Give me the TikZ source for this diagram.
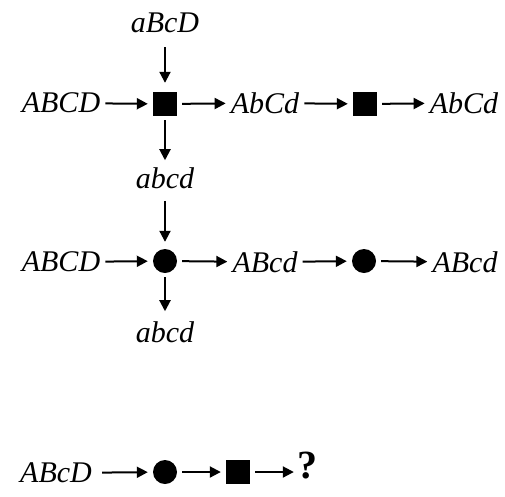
\documentclass[tikz,border=0pt]{standalone}
\usepackage{fontspec}
\setmainfont{Liberation Serif}
\usetikzlibrary{arrows.meta,positioning}

\begin{document}
\begin{tikzpicture}[x=1pt,y=-1pt,>={Triangle[length=11pt,width=11pt]},
  geno/.style={inner sep=0pt,font=\fontsize{30}{36}\selectfont\itshape},
  sqnode/.style={fill=black,minimum size=24pt,inner sep=0pt},
  dotnode/.style={circle,fill=black,minimum size=24pt,inner sep=0pt},
  link/.style={->,line width=2pt,shorten <=5pt,shorten >=5pt}]
  \useasboundingbox (0,0) rectangle (505,496);
  % first cross: square
  \foreach \n/\x/\t in {r1a/61/ABCD,r1b/265/AbCd,r1c/464/AbCd} {
    \node[geno] (\n) at (\x,103) {\t};
  }
  \node[sqnode] (r1s1) at (165,104) {};
  \node[sqnode] (r1s2) at (365,104) {};
  \node[geno] (top) at (165,23) {aBcD};
  \node[geno] (mid) at (165,178) {abcd};
  \draw[link] (r1a) -- (r1s1);
  \draw[link] (r1s1) -- (r1b);
  \draw[link] (r1b) -- (r1s2);
  \draw[link] (r1s2) -- (r1c);
  \draw[link,shorten <=14pt,shorten >=9pt] (top) -- (r1s1);
  \draw[link,shorten <=4pt,shorten >=7pt] (r1s1) -- (mid);
  % second cross: circle
  \foreach \n/\x/\t in {r2a/61/ABCD,r2b/265/ABcd,r2c/465/ABcd} {
    \node[geno] (\n) at (\x,262) {\t};
  }
  \node[dotnode] (r2d1) at (165,261) {};
  \node[dotnode] (r2d2) at (364,261) {};
  \node[geno] (bot) at (165,332) {abcd};
  \draw[link] (r2a) -- (r2d1);
  \draw[link] (r2d1) -- (r2b);
  \draw[link] (r2b) -- (r2d2);
  \draw[link] (r2d2) -- (r2c);
  \draw[link,shorten <=12pt,shorten >=7pt] (mid) -- (r2d1);
  \draw[link,shorten <=4pt,shorten >=10pt] (r2d1) -- (bot);
  % question
  \node[geno] (q1) at (56,473) {ABcD};
  \node[dotnode] (q2) at (165,472) {};
  \node[sqnode] (q3) at (238,472) {};
  \node[inner sep=0pt,font=\fontsize{40}{48}\selectfont\bfseries] (q4) at (307,466) {?};
  \draw[link,shorten <=10pt] (q1) -- (q2);
  \draw[link] (q2) -- (q3);
  \draw[link,shorten >=3pt] (q3) -- (q4.west |- q3);
\end{tikzpicture}
\end{document}
